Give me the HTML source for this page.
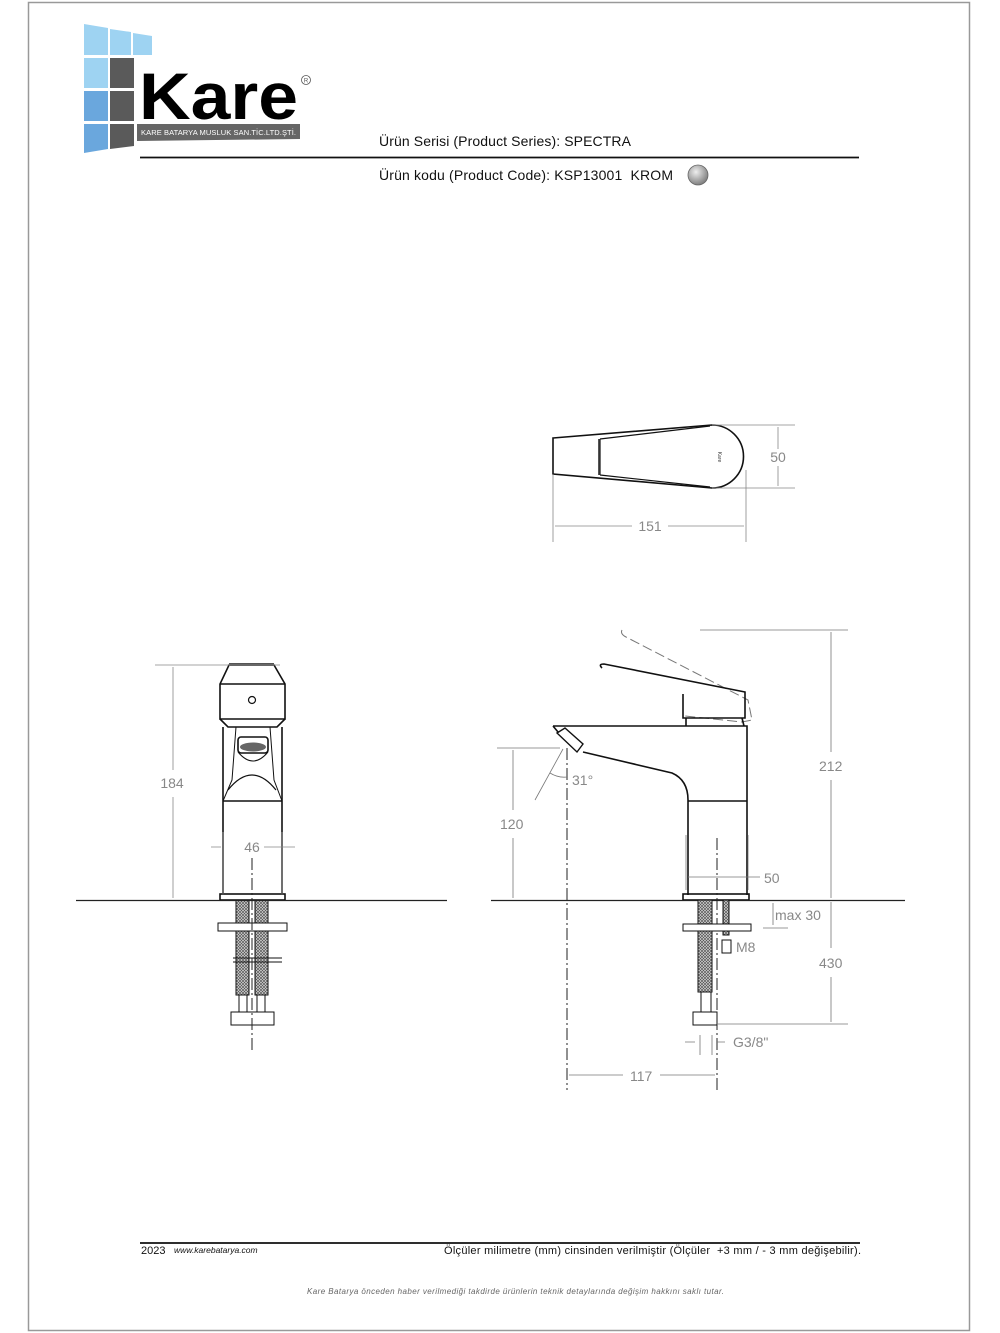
<!DOCTYPE html>
<html><head><meta charset="utf-8"><style>
html,body{margin:0;padding:0;background:#fff}
svg{display:block}
text{font-family:"Liberation Sans",sans-serif}
</style></head><body>
<svg width="1000" height="1333" viewBox="0 0 1000 1333" xmlns="http://www.w3.org/2000/svg">
<defs>
<pattern id="h" width="3" height="3" patternUnits="userSpaceOnUse"><rect width="3" height="3" fill="#ddd"/><path d="M0 3L3 0M0 0L3 3" stroke="#555" stroke-width="0.7"/></pattern>
</defs>
<rect x="28.5" y="2.5" width="941" height="1328" fill="none" stroke="#999" stroke-width="1.5"/>
<!-- logo -->
<g>
<polygon points="84,24 108,28 108,55 84,55" fill="#9ed3f2"/>
<polygon points="110,29 131,32 131,55 110,55" fill="#9ed3f2"/>
<polygon points="133,33 152,36 152,55 133,55" fill="#9ed3f2"/>
<rect x="84" y="58" width="24" height="30" fill="#9ed3f2"/>
<rect x="110" y="58" width="24" height="30" fill="#5a5a5a"/>
<rect x="84" y="91" width="24" height="30" fill="#6aa7dd"/>
<rect x="110" y="91" width="24" height="30" fill="#5a5a5a"/>
<polygon points="84,124 108,124 108,149 84,153" fill="#6aa7dd"/>
<polygon points="110,124 134,124 134,146 110,149" fill="#5a5a5a"/>
<text x="139" y="119" font-size="66" font-weight="bold" fill="#000" textLength="159" lengthAdjust="spacingAndGlyphs">Kare</text>
<circle cx="306" cy="80" r="4.5" fill="none" stroke="#555" stroke-width="0.8"/>
<text x="306" y="82.5" font-size="6" text-anchor="middle" fill="#555">R</text>
<polygon points="137,124 300,124 300,139 137,141" fill="#666"/>
<text x="141" y="135" font-size="7.5" fill="#fff" textLength="155">KARE BATARYA MUSLUK SAN.TİC.LTD.ŞTİ.</text>
</g>
<text x="379" y="146" font-size="14" fill="#111" textLength="252">Ürün Serisi (Product Series): SPECTRA</text>
<line x1="140" y1="157.5" x2="859" y2="157.5" stroke="#111" stroke-width="1.8"/>
<text x="379" y="180" font-size="14" fill="#111" xml:space="preserve" textLength="294">Ürün kodu (Product Code): KSP13001  KROM</text>
<defs><radialGradient id="g" cx="0.4" cy="0.35" r="0.7"><stop offset="0" stop-color="#eee"/><stop offset="1" stop-color="#777"/></radialGradient></defs>
<circle cx="698" cy="175" r="10" fill="url(#g)" stroke="#666" stroke-width="0.8"/>

<!-- top view -->
<g fill="none" stroke="#111" stroke-width="1.6">
<path d="M553,438 L712,425 A31.5,31.5 0 0 1 712,488 L553,474 Z"/>
<path d="M600,439 L600,475 M600,439 L710,426 M600,475 L710,487" stroke-width="1.2"/>
</g>
<rect x="598" y="439" width="1.5" height="36" fill="#555"/>
<text x="718" y="457" font-size="5" fill="#333" transform="rotate(90 718 457)" text-anchor="middle">Kare</text>
<g stroke="#888" stroke-width="0.8" fill="none">
<path d="M712,425H795M712,488H795M778,427V449M778,466V486"/>
<path d="M553,474V542M746,470V542M555,526H632M668,526H744"/>
</g>
<g font-size="14" fill="#888" text-anchor="middle">
<text x="778" y="462">50</text><text x="650" y="531">151</text>
</g>

<!-- front view -->
<g fill="none" stroke="#111" stroke-width="1.6">
<path d="M229,665 L274,665 L285,684 L285,719 L220,719 L220,684 Z"/>
<path d="M220,684H285"/>
<path d="M220,719 L228,727 L277,727 L285,719"/>
<path d="M223,727V895 M282,727V895"/>
<path d="M223,801H282"/>
<rect x="238" y="737" width="30" height="16" rx="3"/>
<path d="M236,727 L232,780 L223,801 M270,727 L274,780 L282,801" stroke-width="1"/>
<path d="M228,790 Q252,760 276,790" stroke-width="1.2"/>
<path d="M238,752 Q253,770 268,752" stroke-width="1"/>
<rect x="220" y="894" width="65" height="6"/>
</g>
<rect x="229" y="663" width="45" height="3" fill="#555"/>
<circle cx="252" cy="700" r="3.5" fill="none" stroke="#111" stroke-width="1.2"/>
<ellipse cx="253" cy="747" rx="13" ry="4.5" fill="#666"/>
<g stroke="#111" stroke-width="1" fill="url(#h)">
<rect x="236" y="900" width="13" height="95"/>
<rect x="255" y="900" width="13" height="95"/>
</g>
<g stroke="#111" stroke-width="1" fill="#fff">
<rect x="218" y="923" width="69" height="8"/>
<rect x="239" y="995" width="8" height="17"/><rect x="257" y="995" width="8" height="17"/>
<rect x="231" y="1012" width="43" height="13"/>
</g>
<path d="M233,958H282M233,962H282" stroke="#111" stroke-width="1"/>
<path d="M252,858V1050" stroke="#222" stroke-width="1" stroke-dasharray="12,3,2,3"/>
<line x1="76" y1="900.5" x2="447" y2="900.5" stroke="#222" stroke-width="1.3"/>
<g stroke="#888" stroke-width="0.8" fill="none">
<path d="M155,665H280M173,667V770M173,797V898"/>
<path d="M211,847H221M264,847H295M223,832V895M282,832V895"/>
</g>
<g font-size="14" fill="#888" text-anchor="middle">
<text x="172" y="788">184</text><text x="252" y="852">46</text>
</g>

<!-- side view -->
<path d="M622,630 Q620,634 626,637 L748,700 L752,720 L742,722 L685,716" fill="none" stroke="#777" stroke-width="1" stroke-dasharray="10,4"/>
<g fill="none" stroke="#111" stroke-width="1.6">
<path d="M602,668 Q598,664 604,664 L745,692 L745,718 L683,718 L683,694"/>
<path d="M686,718 L686,726 M742,718 L744,726"/>
<path d="M553,726 L747,726 L747,895"/>
<path d="M553,726 L558,732"/>
<path d="M583,752 L672,773 Q688,780 688,800 L688,895"/>
<path d="M688,801H747"/>
<rect x="683" y="894" width="66" height="6"/>
</g>
<polygon points="557,733 565,728 583,744 577,752" fill="none" stroke="#111" stroke-width="1.4"/>
<line x1="491" y1="900.5" x2="905" y2="900.5" stroke="#222" stroke-width="1.3"/>
<path d="M567,748V1090M717,838V1090" stroke="#222" stroke-width="1" stroke-dasharray="12,3,2,3"/>
<g stroke="#111" stroke-width="1" fill="url(#h)">
<rect x="698" y="900" width="14" height="92"/>
<rect x="723" y="900" width="6" height="35"/>
</g>
<g stroke="#111" stroke-width="1" fill="#fff">
<rect x="683" y="924" width="68" height="7"/>
<rect x="722" y="940" width="9" height="13"/>
<rect x="701" y="992" width="10" height="20"/>
<rect x="693" y="1012" width="24" height="13"/>
</g>
<g stroke="#777" stroke-width="0.8" fill="none">
<path d="M497,748H560M513,750V810M513,838V898"/>
<path d="M535,800L563,749M550,773Q558,778 567,777"/>
<path d="M700,630H848M831,632V752M831,780V898"/>
<path d="M686,835V890M748,835V890M688,877H760"/>
<path d="M773,903V925M763,928H788"/>
<path d="M717,1024H848M831,902V948M831,977V1022"/>
<path d="M685,1042H695M700,1035V1055M712,1035V1055M717,1042H725"/>
<path d="M569,1075H623M660,1075H715"/>
</g>
<g font-size="14" fill="#888">
<text x="500" y="829">120</text><text x="572" y="785">31°</text>
<text x="819" y="771">212</text><text x="764" y="883">50</text>
<text x="775" y="920">max 30</text><text x="736" y="952">M8</text>
<text x="819" y="968">430</text><text x="733" y="1047">G3/8"</text>
<text x="630" y="1081">117</text>
</g>

<!-- footer -->
<line x1="140" y1="1243" x2="860" y2="1243" stroke="#111" stroke-width="1.8"/>
<text x="141" y="1254" font-size="11" fill="#111">2023</text>
<text x="174" y="1253" font-size="8.5" font-style="italic" fill="#111">www.karebatarya.com</text>
<text x="444" y="1254" font-size="11" fill="#111" xml:space="preserve" textLength="417">Ölçüler milimetre (mm) cinsinden verilmiştir (Ölçüler  +3 mm / - 3 mm değişebilir).</text>
<text x="307" y="1294" font-size="8" font-style="italic" fill="#666" textLength="417">Kare Batarya önceden haber verilmediği takdirde ürünlerin teknik detaylarında değişim hakkını saklı tutar.</text>
</svg>
</body></html>
